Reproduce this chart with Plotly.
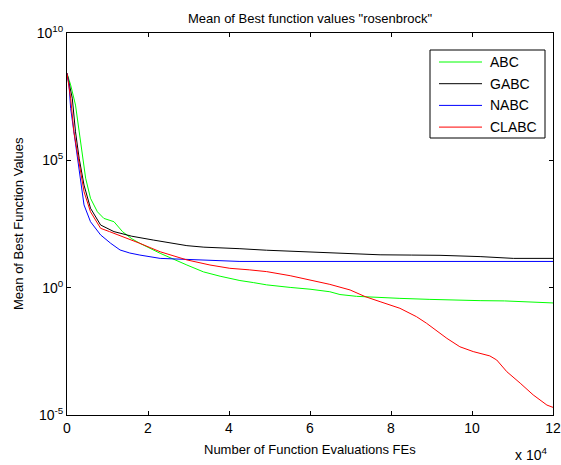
import plotly.graph_objects as go

# Function evaluations (in units of 1e4 FEs) and log10 of the mean best value
abc_fes = [0, 0.09, 0.21, 0.30, 0.38, 0.46, 0.58, 0.75, 0.91, 1.16, 1.37, 1.6, 1.80, 2.30, 2.96,
           3.37, 3.78, 4.27, 4.6, 4.93, 5.51, 6.0, 6.49, 6.74, 7.15, 7.56, 8.22, 8.96, 9.6, 10.2,
           10.8, 11.27, 11.6, 12.0]
abc_log10 = [8.42, 7.96, 7.17, 6.12, 5.08, 4.30, 3.51, 2.98, 2.72, 2.59, 2.20, 1.92, 1.74, 1.35, 0.89,
             0.62, 0.45, 0.28, 0.20, 0.11, 0.01, -0.06, -0.16, -0.27, -0.34, -0.38, -0.42, -0.46, -0.50, -0.51,
             -0.52, -0.55, -0.59, -0.60]

gabc_fes = [0, 0.13, 0.21, 0.30, 0.42, 0.58, 0.83, 1.16, 1.31, 1.6, 2.13, 2.5, 2.96, 3.38, 3.78,
            4.27, 4.93, 5.5, 6.0, 6.49, 7.1, 7.73, 8.5, 9.21, 10.2, 11.02, 12.0]
gabc_log10 = [8.42, 7.44, 6.12, 5.08, 4.03, 3.12, 2.46, 2.20, 2.14, 2.02, 1.87, 1.76, 1.65, 1.59, 1.55,
              1.53, 1.47, 1.43, 1.40, 1.37, 1.33, 1.29, 1.28, 1.27, 1.22, 1.15, 1.15]

nabc_fes = [0, 0.05, 0.09, 0.17, 0.25, 0.34, 0.42, 0.58, 0.83, 1.08, 1.31, 1.55, 1.80, 2.30, 3.0,
            4.27, 6.0, 8.0, 10.0, 12.0]
nabc_log10 = [8.42, 7.96, 7.04, 6.12, 5.08, 4.03, 3.25, 2.59, 2.07, 1.74, 1.48, 1.36, 1.28, 1.15, 1.11,
              1.03, 1.03, 1.03, 1.03, 1.03]

clabc_fes = [0, 0.09, 0.17, 0.30, 0.42, 0.58, 0.83, 1.05, 1.31, 1.80, 2.30, 2.96, 3.53, 4.02, 4.5,
             4.93, 5.51, 6.0, 6.49, 6.99, 7.36, 7.73, 8.22, 8.63, 8.88, 9.38, 9.70, 10.03, 10.44, 10.61,
             10.86, 11.19, 11.51, 11.85, 12.0]
clabc_log10 = [8.42, 7.44, 6.12, 4.82, 3.77, 2.98, 2.33, 2.20, 2.05, 1.74, 1.41, 1.09, 0.89, 0.76, 0.70,
               0.63, 0.47, 0.30, 0.13, -0.09, -0.35, -0.55, -0.81, -1.14, -1.40, -1.99, -2.32, -2.51, -2.68, -2.84,
               -3.30, -3.75, -4.21, -4.61, -4.70]

x_tick_vals = [0, 2, 4, 6, 8, 10, 12]
y_tick_exps = [-5, 0, 5, 10]

series_names = ["ABC", "GABC", "NABC", "CLABC"]
series_colors = ["#00ff00", "#000000", "#0000ff", "#ff0000"]
series_fes = [abc_fes, gabc_fes, nabc_fes, clabc_fes]
series_logs = [abc_log10, gabc_log10, nabc_log10, clabc_log10]

FONT = "Liberation Sans, Arial, sans-serif"

# plot-area geometry in pixels (used to place the boxed legend)
W, H = 561, 465
ML, MR, MT, MB = 67, 8, 33, 50
PW, PH = W - ML - MR, H - MT - MB


def px_to_paper(px, py):
    return (px - ML) / PW, (H - MB - py) / PH


fig = go.Figure()
for name, fes, logs, color in zip(series_names, series_fes, series_logs, series_colors):
    fig.add_trace(go.Scatter(
        x=[f * 1e4 for f in fes],
        y=[10 ** v for v in logs],
        mode="lines",
        name=name,
        line=dict(color=color, width=1),
        showlegend=False,
    ))

fig.update_layout(
    width=W, height=H,
    margin=dict(l=ML, r=MR, t=MT, b=MB),
    plot_bgcolor="white", paper_bgcolor="white",
    font=dict(family=FONT, size=13, color="black"),
    xaxis=dict(
        range=[0, 12e4],
        tickvals=[v * 1e4 for v in x_tick_vals],
        ticktext=[str(v) for v in x_tick_vals],
        ticks="inside", ticklen=4, tickcolor="black",
        showline=True, linecolor="black", linewidth=1, mirror="ticks",
        showgrid=False, zeroline=False, automargin=False,
        tickfont=dict(size=14),
    ),
    yaxis=dict(
        type="log",
        range=[-5, 10],
        tickvals=[10 ** e for e in y_tick_exps],
        ticktext=[f"10<sup>{e}</sup>" for e in y_tick_exps],
        ticks="inside", ticklen=4, tickcolor="black",
        showline=True, linecolor="black", linewidth=1, mirror="ticks",
        showgrid=False, zeroline=False, automargin=False,
        tickfont=dict(size=14),
    ),
)

# boxed legend in the upper right corner
x0, y0 = px_to_paper(430, 50)
x1, y1 = px_to_paper(545, 138)
fig.add_shape(type="rect", xref="paper", yref="paper", x0=x0, y0=y1, x1=x1, y1=y0,
              line=dict(color="black", width=1), fillcolor="white", layer="above")
for i, (name, color) in enumerate(zip(series_names, series_colors)):
    row_y = 62 + i * 21.7
    lx0, ly = px_to_paper(439, row_y)
    lx1, _ = px_to_paper(482, row_y)
    tx, _ = px_to_paper(488, row_y)
    fig.add_shape(type="line", xref="paper", yref="paper", x0=lx0, y0=ly, x1=lx1, y1=ly,
                  line=dict(color=color, width=1), layer="above")
    fig.add_annotation(text=name, xref="paper", yref="paper", x=tx, y=ly,
                       xanchor="left", yanchor="middle", showarrow=False,
                       font=dict(size=14))

fig.add_annotation(text='Mean of Best function values "rosenbrock"', xref="paper", yref="paper",
                   x=0.5, y=1, xanchor="center", yanchor="middle", yshift=15,
                   showarrow=False, font=dict(size=13))
fig.add_annotation(text="Number of Function Evaluations FEs", xref="paper", yref="paper",
                   x=0.5, y=0, xanchor="center", yanchor="middle", yshift=-34,
                   showarrow=False, font=dict(size=13))
fig.add_annotation(text="Mean of Best Function Values", xref="paper", yref="paper",
                   x=0, y=0.5, xanchor="center", yanchor="middle", xshift=-49, textangle=-90,
                   showarrow=False, font=dict(size=13))
fig.add_annotation(text="x 10<sup>4</sup>", xref="paper", yref="paper",
                   x=1, y=0, xanchor="right", yanchor="middle", xshift=-4, yshift=-39,
                   showarrow=False, font=dict(size=14))

fig.write_html("out.html")
